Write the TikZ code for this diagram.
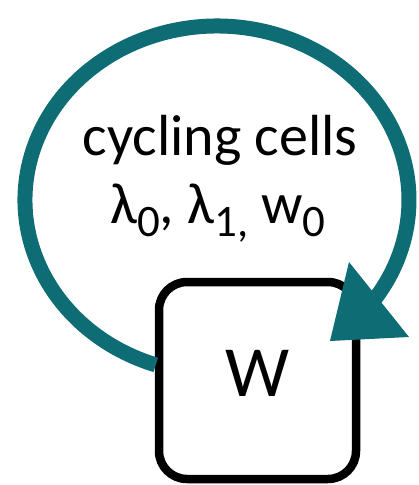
\documentclass[tikz,border=0pt]{standalone}
\usepackage{fontspec}
\setmainfont{Carlito}
\usetikzlibrary{calc}
\definecolor{loopteal}{RGB}{14,108,117}
\newcommand\mysub[1]{\raisebox{-13pt}{\fontsize{45}{45}\selectfont #1}}
\tikzset{
  box/.style={draw=black, line width=8.5pt, rounded corners=28pt, minimum width=197pt, minimum height=197pt, inner sep=0pt, fill=white},
  loopline/.style={draw=loopteal, line width=15pt},
  loophead/.style={fill=loopteal, draw=none},
  bigtext/.style={font=\fontsize{58}{60}\selectfont, anchor=base, inner sep=0pt},
  wtext/.style={font=\fontsize{72}{72}\selectfont, inner sep=0pt}
}
\begin{document}
\begin{tikzpicture}[x=1pt, y=-1pt]
\useasboundingbox (0,0) rectangle (419,485);
\node[box] (W) at (257.5,380.5) {};
\node[wtext] (Wlabel) at ([yshift=7pt]W.center) {W};
\node[bigtext] (t1) at (220,155) {cycling cells};
\node[bigtext] (t2) at (218,223) {λ\mysub{0}, λ\mysub{1,} w\mysub{0}};
% self loop on W
\coordinate (c) at (217,200);
\coordinate (s) at ($(c)+(108.6:192 and 174)$);
\draw[loopline] (s) arc[start angle=108.6, end angle=396, x radius=192, y radius=174];
\coordinate (h1) at (349,262);
\coordinate (h2) at (409,337);
\coordinate (tip) at (330,341);
\fill[loophead] (h1) -- (h2) -- (tip) -- cycle;
\end{tikzpicture}
\end{document}
